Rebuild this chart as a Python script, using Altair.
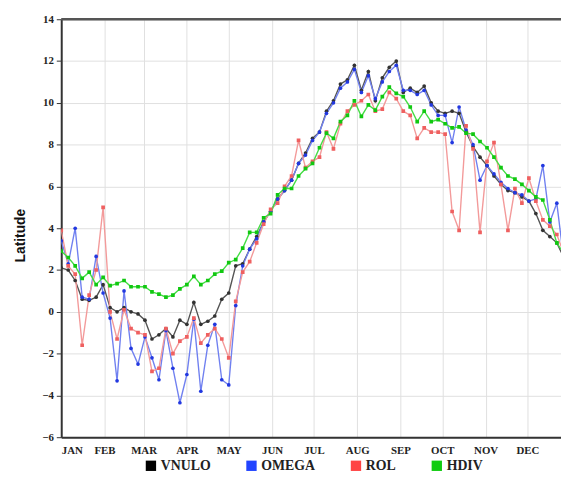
import altair as alt
import pandas as pd

series_names = ["VNULO", "OMEGA", "ROL", "HDIV"]
month_labels = ["JAN", "FEB", "MAR", "APR", "MAY", "JUN", "JUL", "AUG", "SEP", "OCT", "NOV", "DEC"]
month_days = [0, 31, 59, 90, 120, 151, 181, 212, 243, 273, 304, 334]
y_ticks = [-6, -4, -2, 0, 2, 4, 6, 8, 10, 12, 14]

# pentad values (one value every 5 days, starting 1 Jan)
vnulo = [2.1, 2.0, 1.5, 0.6, 0.55, 0.7, 1.3, 0.2, 0.0, 0.2, 0.0, -0.1, -0.4, -1.3, -1.1, -0.8, -1.2, -0.4, -0.6,
         0.45, -0.6, -0.45, -0.2, 0.6, 0.9, 2.2, 2.3, 3.0, 3.6, 4.3, 4.8,
         5.4, 5.8, 6.3, 7.1, 7.6, 8.3, 8.6, 9.6, 10.1, 10.9, 11.1, 11.8, 10.6, 11.5, 10.1, 11.2, 11.7, 12.0,
         10.5, 10.7, 10.5, 10.8, 10.0, 9.6, 9.5, 9.6, 9.5, 8.6, 7.9, 7.4, 7.0, 6.5, 6.1, 5.8, 5.7, 5.5, 5.3,
         4.7, 3.9, 3.6, 3.3, 2.6]
omega = [3.4, 2.3, 4.0, 0.7, 0.6, 2.65, 0.9, -0.3, -3.3, 1.0, -1.75, -2.5, -1.2, -2.2, -3.25, -0.9, -2.7,
         -4.35, -3.0, -0.35, -3.8, -1.6, -0.6, -3.25, -3.5, 0.3, 2.2, 3.0, 3.5, 4.3, 4.8,
         5.4, 5.8, 6.3, 7.1, 7.5, 8.2, 8.6, 9.5, 10.0, 10.7, 11.0, 11.6, 10.5, 11.3, 10.2, 11.0, 11.5, 11.8,
         10.6, 10.6, 10.4, 10.6, 9.9, 9.4, 9.4, 8.1, 9.8, 8.7, 8.0, 6.3, 7.0, 6.6, 6.2, 5.9, 5.7, 5.6, 5.3,
         5.4, 7.0, 4.3, 5.2, 2.5]
rol = [3.9, 2.2, 1.8, -1.6, 0.8, 2.0, 5.0, 0.0, -1.3, 0.1, -0.8, -1.0, -1.1, -2.85, -2.7, -0.8, -2.0, -1.4,
       -1.2, -0.3, -1.5, -1.1, -0.8, -1.3, -2.2, 0.5, 1.9, 2.4, 3.3, 4.2, 4.9,
       5.2, 6.0, 6.5, 8.2, 6.9, 7.2, 7.4, 8.6, 7.8, 9.0, 9.6, 9.9, 10.1, 10.4, 9.6, 9.7, 10.5, 10.2,
       9.6, 9.4, 8.3, 8.8, 8.6, 8.6, 8.5, 4.8, 3.9, 8.9, 7.8, 3.8, 7.2, 8.1, 6.1, 3.9, 5.9, 5.2, 6.4,
       5.3, 4.4, 4.1, 3.7, 2.8]
hdiv = [2.9, 2.6, 2.2, 1.6, 1.9, 1.3, 1.65, 1.25, 1.35, 1.5, 1.2, 1.2, 1.2, 0.95, 0.85, 0.7, 0.8, 1.1, 1.3,
        1.7, 1.3, 1.5, 1.8, 1.95, 2.35, 2.5, 3.05, 3.8, 3.8, 4.5, 4.7,
        5.6, 5.9, 5.9, 6.5, 6.85, 7.1, 7.85, 8.55, 8.3, 9.1, 9.4, 10.1, 9.35, 9.9, 9.65, 10.3, 10.75, 10.45,
        10.3, 9.8, 9.1, 9.6, 9.1, 9.2, 9.0, 8.8, 8.85, 8.55, 8.5, 8.15, 7.85, 7.4, 6.9, 6.5, 6.35, 6.1, 5.8,
        5.5, 5.35, 4.4, 3.3, 2.8]

rows = []
for name, vals in zip(series_names, [vnulo, omega, rol, hdiv]):
    for i, v in enumerate(vals):
        rows.append({"series": name, "day": 5 * i, "lat": v})
df = pd.DataFrame(rows)

line_colors = ["#555555", "#7080f0", "#f39a9a", "#44dd44"]
point_colors = ["#333333", "#2238e0", "#ef6060", "#11c811"]
legend_colors = ["#000000", "#2244ff", "#ff4444", "#11cc11"]

label_expr = "[" + ",".join("'" + m + "'" for m in month_labels) + "][indexof([" + ",".join(
    str(d) for d in month_days) + "], datum.value)]"

x_enc = alt.X("day:Q", scale=alt.Scale(domain=[0, 358], nice=False, zero=False),
              axis=alt.Axis(values=month_days, labelExpr=label_expr, title=None, grid=True,
                            gridColor="#e0e0e0", domainColor="#333333", domainWidth=2,
                            tickSize=0, labelPadding=8, labelFont="Liberation Serif",
                            labelFontWeight="bold", labelFontSize=11, labelColor="#222222"))
y_enc = alt.Y("lat:Q", scale=alt.Scale(domain=[-6, 14], nice=False),
              axis=alt.Axis(values=y_ticks, title="Latitude", grid=True, gridColor="#e0e0e0",
                            domainColor="#333333", domainWidth=2, tickColor="#333333", tickSize=5,
                            labelFont="Liberation Serif", labelFontWeight="bold", labelFontSize=11,
                            labelColor="#222222", labelPadding=3,
                            titleFont="Liberation Sans", titleFontWeight="bold", titleFontSize=14,
                            titleColor="#111111", titleX=-34, titleY=219, titleAngle=270))

base = alt.Chart(df)

lines = base.mark_line(strokeWidth=1.4, clip=True).encode(
    x=x_enc, y=y_enc,
    color=alt.Color("series:N", sort=series_names,
                    scale=alt.Scale(domain=series_names, range=line_colors), legend=None),
    detail="series:N",
)

points = base.mark_point(filled=True, size=14, opacity=1, clip=True).encode(
    x="day:Q", y="lat:Q",
    color=alt.Color("series:N", sort=series_names,
                    scale=alt.Scale(domain=series_names, range=point_colors), legend=None),
    shape=alt.Shape("series:N", scale=alt.Scale(domain=series_names,
                                                range=["circle", "circle", "square", "square"]),
                    legend=None),
)

legend_layer = alt.Chart(pd.DataFrame({"series": series_names})).mark_point(
    filled=True, size=0, opacity=0).encode(
    x=alt.value(0), y=alt.value(0),
    fill=alt.Fill("series:N", sort=series_names,
                  scale=alt.Scale(domain=series_names, range=legend_colors),
                  legend=alt.Legend(title=None, orient="none", legendX=84, legendY=446,
                                    direction="horizontal", symbolType="square", symbolSize=110,
                                    symbolStrokeWidth=0, symbolOpacity=1,
                                    labelFont="Liberation Serif", labelFontWeight="bold",
                                    labelFontSize=14, labelColor="#222222", labelOffset=3,
                                    columnPadding=34)),
)

top_border = alt.Chart(pd.DataFrame({"v": [14]})).mark_rule(color="#555555", strokeWidth=2.5).encode(
    y=alt.Y("v:Q", scale=alt.Scale(domain=[-6, 14], nice=False))
)

chart = alt.layer(lines, points, legend_layer, top_border).resolve_scale(
    color="independent", fill="independent"
).properties(
    width=507, height=424,
    autosize=alt.AutoSizeParams(type="none"),
    padding={"left": 54, "top": 8, "right": 0, "bottom": 40},
).configure_view(stroke=None).configure(background="white")

chart.save("out.html", embed_options={"renderer": "svg", "actions": False})
